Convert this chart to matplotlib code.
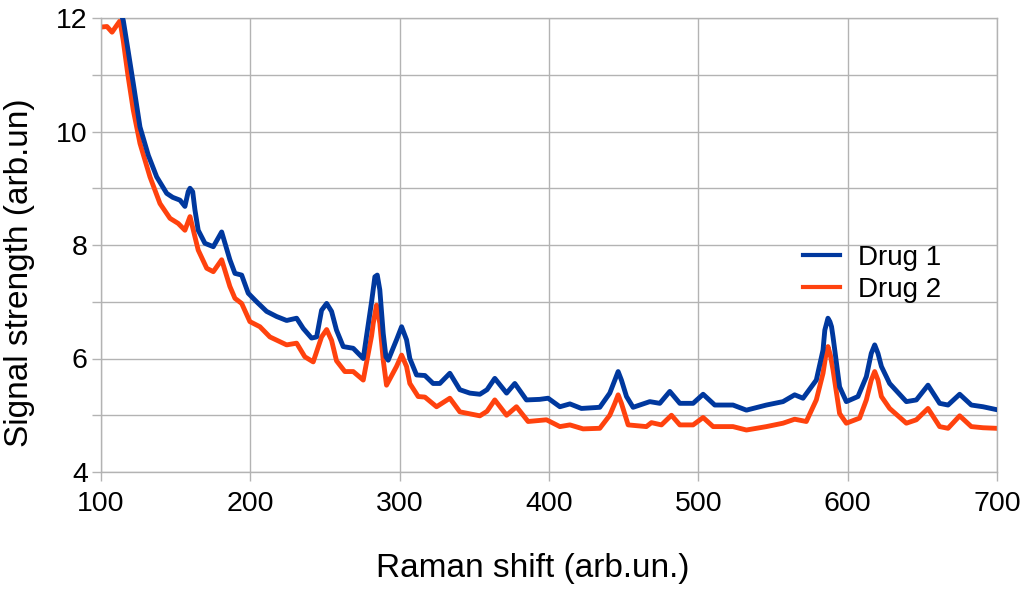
import matplotlib
matplotlib.use("Agg")
import matplotlib.pyplot as plt

# ---- Data ----
x_drug1 = [100, 105, 110, 113, 114.9, 118, 121.6, 126.1, 131.7, 137.3, 144, 148, 152.9,
           156.2, 158.4, 159.6, 161.4, 162.9, 165.1, 169.6, 175.2, 180.8, 186.3, 189.7,
           194.2, 198.6, 204.2, 210.9, 217.6, 224.3, 231, 235.4, 241, 244.4, 247.7,
           251.1, 254.4, 257.7, 262.2, 268.9, 275.6, 281.2, 283.4, 285, 286.7, 289,
           290.8, 292.3, 297.9, 301.3, 304.6, 306.8, 311.3, 316.9, 322.4, 326.9, 333.6,
           340.3, 347, 353.7, 358.5, 363.7, 371.6, 377.1, 384.9, 393.8, 399.4, 407.3,
           414, 421.7, 434, 440.7, 444.1, 446.3, 448.5, 451.9, 456.3, 467.5, 474.2,
           480.9, 487.6, 496.5, 503.2, 511, 523.2, 532.2, 545.6, 556.7, 564.5, 570.1,
           579, 583.5, 584.7, 586.8, 588.1, 589.2, 590.2, 594.6, 599.1, 606.9, 612.5,
           615.8, 618.1, 620.3, 622.6, 628.1, 639.3, 646, 653.8, 661.6, 667.2, 675,
           682.8, 690.6, 699.5]
y_drug1 = [12.4, 12.35, 12.3, 12.1, 11.96, 11.45, 10.85, 10.08, 9.58, 9.2, 8.91, 8.84, 8.79,
           8.68, 8.94, 9.0, 8.94, 8.62, 8.26, 8.03, 7.97, 8.23, 7.74, 7.5,
           7.47, 7.15, 7.0, 6.83, 6.74, 6.67, 6.71, 6.53, 6.36, 6.38, 6.85,
           6.97, 6.83, 6.5, 6.21, 6.18, 6.0, 7.0, 7.44, 7.47, 7.21, 6.44,
           6.03, 5.97, 6.33, 6.56, 6.33, 6.0, 5.71, 5.7, 5.56, 5.56, 5.74,
           5.45, 5.39, 5.37, 5.45, 5.65, 5.39, 5.56, 5.27, 5.28, 5.3, 5.15,
           5.2, 5.12, 5.14, 5.39, 5.62, 5.77, 5.62, 5.33, 5.14, 5.24, 5.21,
           5.42, 5.21, 5.21, 5.37, 5.18, 5.18, 5.09, 5.18, 5.24, 5.36, 5.3,
           5.62, 6.15, 6.5, 6.71, 6.65, 6.56, 6.38, 5.5, 5.24, 5.33, 5.68,
           6.09, 6.24, 6.09, 5.86, 5.56, 5.24, 5.27, 5.53, 5.21, 5.18, 5.37,
           5.18, 5.15, 5.1]

x_drug2 = [100, 104, 107.4, 110, 112.7, 114.9, 118, 121.6, 126.1, 132.8, 139.5, 146.2,
           151.7, 156.2, 159.6, 165.1, 170.8, 175.2, 180.8, 186.3, 189.7, 194.2, 199.7,
           206.4, 213.1, 224.3, 231, 236.5, 242.1, 247.7, 251.1, 254.4, 257.7, 263.3,
           268.9, 275.6, 281.2, 282.3, 284.5, 286.7, 289, 291.2, 297.9, 301.3, 304.6,
           306.8, 312.4, 316.9, 324.7, 333.6, 340.3, 353.7, 358.5, 363.7, 371.6, 378.2,
           386, 398.3, 407.3, 414, 422.8, 434, 440.7, 444.1, 446.3, 448.5, 453, 465.2,
           468.6, 475.3, 482, 487.6, 496.5, 503.2, 509.9, 523.2, 532.2, 545.6, 556.7,
           564.5, 572.3, 579, 583.5, 585.2, 586.8, 588.4, 590.2, 594.6, 599.1, 608,
           612.5, 615.8, 618.1, 620.3, 622.6, 628.1, 639.3, 646, 653.8, 661.6, 667.2,
           675, 682.8, 690.6, 699.5]
y_drug2 = [11.84, 11.85, 11.75, 11.85, 11.95, 11.6, 11.0, 10.38, 9.79, 9.2, 8.73, 8.47,
           8.38, 8.26, 8.5, 7.91, 7.59, 7.53, 7.74, 7.27, 7.06, 6.97, 6.65,
           6.56, 6.38, 6.24, 6.27, 6.03, 5.94, 6.38, 6.51, 6.32, 5.96, 5.77,
           5.77, 5.62, 6.4, 6.62, 6.94, 6.62, 5.97, 5.53, 5.86, 6.06, 5.86,
           5.56, 5.33, 5.32, 5.15, 5.3, 5.06, 4.99, 5.07, 5.27, 5.0, 5.15,
           4.89, 4.92, 4.8, 4.83, 4.76, 4.77, 5.0, 5.21, 5.36, 5.21, 4.83, 4.8,
           4.87, 4.83, 5.0, 4.83, 4.83, 4.96, 4.8, 4.8, 4.74, 4.8, 4.86,
           4.93, 4.89, 5.27, 5.74, 6.03, 6.21, 6.06, 5.8, 5.03, 4.86, 4.95,
           5.27, 5.62, 5.77, 5.62, 5.33, 5.12, 4.86, 4.92, 5.12, 4.8, 4.77,
           4.99, 4.8, 4.78, 4.77]

series_labels = ["Drug 1", "Drug 2"]
x_ticks = [100, 200, 300, 400, 500, 600, 700]
y_ticks = [4, 6, 8, 10, 12]
y_minor = [5, 7, 9, 11]

plt.rcParams['font.family'] = ['Liberation Sans', 'DejaVu Sans']

fig = plt.figure(figsize=(10.24, 6.01), dpi=100)
ax = fig.add_axes([101/1024, 1-472/601, 896/1024, 454/601])

grid_c = '#b3b3b3'
ax.plot(x_drug1, y_drug1, color='#00389e', lw=3.5, label=series_labels[0],
        solid_joinstyle='round', zorder=3)
ax.plot(x_drug2, y_drug2, color='#ff420e', lw=3.5, label=series_labels[1],
        solid_joinstyle='round', zorder=2)

ax.set_xlim(100, 700)
ax.set_ylim(4, 12)
ax.set_xticks(x_ticks)
ax.set_yticks(y_ticks)
ax.set_yticks(y_minor, minor=True)
ax.grid(True, which='both', color=grid_c, lw=1)
ax.set_axisbelow(True)
for s in ax.spines.values():
    s.set_color(grid_c)
    s.set_linewidth(1)
ax.tick_params(axis='both', which='both', color=grid_c, length=6.5, width=1,
               labelsize=20.5, labelcolor='black')
ax.tick_params(axis='x', pad=7)
ax.tick_params(axis='y', pad=3)

ax.set_xlabel("Raman shift (arb.un.)", fontsize=24)
ax.set_ylabel("Signal strength (arb.un)", fontsize=24)
ax.xaxis.set_label_coords((533-101)/896, (472-568)/454)
ax.xaxis.label.set_va('center')
ax.yaxis.set_label_coords((20-101)/896, (472-273)/454)
ax.yaxis.label.set_va('center')

leg = ax.legend(loc='upper left', bbox_to_anchor=((803-101)/896, (472-245)/454),
                frameon=False, fontsize=20, handlelength=1.33, handletextpad=0.65,
                labelspacing=0.22, borderpad=0, borderaxespad=0)
for h in leg.get_lines():
    h.set_linewidth(3)

fig.savefig("out.png", dpi=100)
